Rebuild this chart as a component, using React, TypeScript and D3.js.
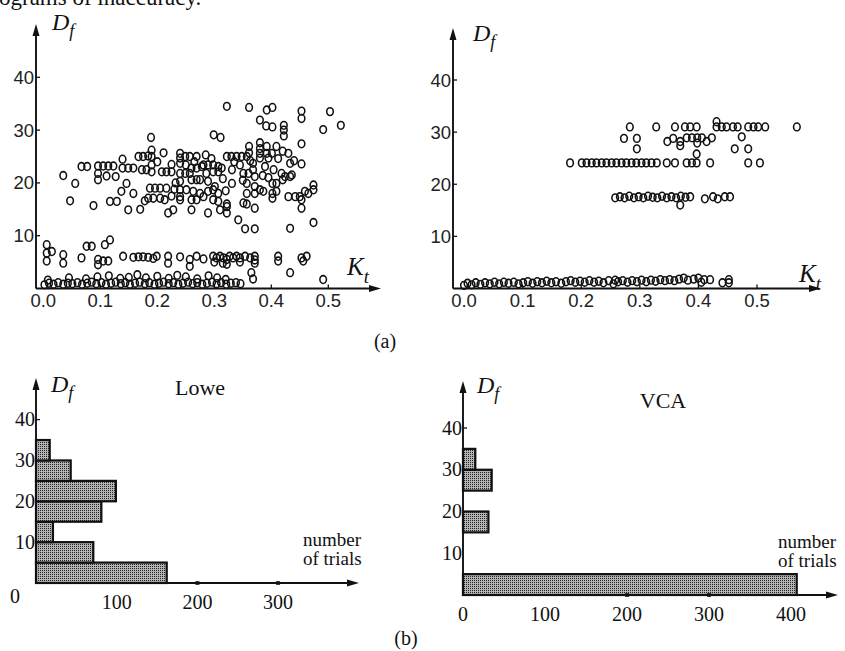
import React, { useEffect, useRef } from 'react';
import * as d3 from 'd3';

// (a) left: Lowe, points as [Kt, Df]
const loweBottomRow = [
  [0.002, 0.7], [0.010, 1.0], [0.018, 0.8], [0.026, 1.1], [0.035, 0.8], [0.043, 1.0], [0.051, 0.9],
  [0.060, 1.1], [0.068, 0.8], [0.077, 1.0], [0.085, 1.2], [0.093, 0.9], [0.102, 1.1], [0.110, 0.8],
  [0.119, 1.0], [0.127, 1.2], [0.136, 0.9], [0.144, 1.1], [0.152, 0.8], [0.161, 1.0], [0.169, 1.2],
  [0.178, 0.9], [0.186, 1.1], [0.195, 0.8], [0.203, 1.0], [0.211, 1.2], [0.220, 0.9], [0.228, 1.1],
  [0.237, 0.8], [0.245, 1.0], [0.254, 1.2], [0.262, 0.9], [0.270, 1.1], [0.279, 0.8], [0.287, 1.0],
  [0.296, 1.2], [0.304, 0.9], [0.312, 1.1], [0.321, 0.8], [0.329, 1.0], [0.338, 1.1], [0.346, 0.9],
];
const loweSecondRow = [
  [0.008, 1.6], [0.045, 2.0], [0.075, 1.8], [0.095, 2.2], [0.115, 2.4], [0.135, 1.9], [0.150, 2.1],
  [0.165, 2.6], [0.180, 2.0], [0.200, 2.3], [0.220, 1.9], [0.235, 2.5], [0.250, 2.2], [0.270, 1.8],
  [0.290, 2.4], [0.305, 2.0], [0.320, 1.7], [0.365, 3.0], [0.368, 1.8], [0.433, 3.0], [0.491, 1.7],
];
const loweMidRow = [
  [0.006, 8.3], [0.006, 6.7], [0.006, 5.2], [0.015, 7.0], [0.035, 6.4], [0.035, 4.8], [0.067, 5.8],
  [0.076, 8.0], [0.085, 8.0], [0.108, 8.3], [0.117, 9.2], [0.096, 5.5], [0.096, 4.5], [0.105, 5.2],
  [0.114, 5.2], [0.140, 6.1], [0.158, 5.9], [0.167, 6.0], [0.175, 6.0], [0.184, 5.9], [0.193, 5.7],
  [0.199, 6.1], [0.219, 6.1], [0.219, 4.8], [0.240, 6.0], [0.257, 5.5], [0.257, 4.2], [0.269, 6.1],
  [0.281, 5.6], [0.298, 6.1], [0.304, 5.8], [0.310, 6.1], [0.316, 5.8], [0.322, 5.5], [0.322, 4.6],
  [0.327, 6.1], [0.333, 5.8], [0.339, 6.1], [0.345, 5.8], [0.354, 6.1], [0.363, 5.8], [0.371, 6.1],
  [0.371, 4.8], [0.412, 6.1], [0.412, 5.2], [0.453, 5.8], [0.462, 6.1], [0.456, 5.2], [0.300, 5.0],
  [0.315, 4.8], [0.345, 5.0], [0.371, 5.4],
];
const loweCluster = [
  [0.322, 34.5], [0.361, 34.3], [0.392, 33.8], [0.402, 34.3], [0.380, 31.9], [0.391, 30.8], [0.402, 30.6],
  [0.422, 30.9], [0.422, 30.0], [0.422, 28.9], [0.453, 33.6], [0.453, 32.2], [0.503, 33.5], [0.491, 30.1],
  [0.522, 30.9], [0.299, 29.1], [0.311, 28.6], [0.189, 28.6], [0.453, 27.4], [0.453, 23.6],
  [0.035, 21.4], [0.056, 19.9], [0.047, 16.6], [0.088, 15.7], [0.067, 23.1], [0.077, 23.1],
  [0.096, 23.2], [0.105, 23.2], [0.114, 23.2], [0.123, 23.2], [0.096, 21.8], [0.096, 20.6], [0.111, 21.3],
  [0.139, 24.5], [0.139, 22.8], [0.149, 22.8], [0.158, 22.8], [0.127, 21.2], [0.146, 19.9], [0.137, 18.4],
  [0.158, 18.0], [0.117, 16.5], [0.129, 16.5], [0.149, 14.9], [0.170, 15.0], [0.167, 25.0], [0.175, 25.0],
  [0.184, 25.1], [0.190, 26.2], [0.190, 25.0], [0.190, 23.4], [0.190, 22.1], [0.211, 25.7], [0.173, 22.5],
  [0.181, 22.5], [0.208, 22.1], [0.216, 22.1], [0.225, 22.1], [0.187, 19.0], [0.196, 19.0], [0.205, 19.0],
  [0.216, 19.0], [0.184, 17.1], [0.193, 17.1], [0.205, 17.1], [0.178, 16.6], [0.213, 16.8], [0.219, 14.3],
  [0.228, 14.9], [0.240, 25.6], [0.240, 24.7], [0.240, 23.7], [0.249, 25.0], [0.257, 25.0], [0.269, 25.0],
  [0.240, 21.8], [0.249, 21.8], [0.257, 21.8], [0.240, 20.3], [0.240, 18.7], [0.240, 17.4], [0.240, 16.8],
  [0.260, 22.8], [0.269, 22.8], [0.278, 23.1], [0.260, 20.6], [0.269, 20.6], [0.275, 20.6], [0.251, 18.7],
  [0.263, 18.4], [0.275, 18.0], [0.260, 16.8], [0.269, 16.8], [0.281, 17.4], [0.260, 14.9], [0.289, 14.3],
  [0.281, 23.4], [0.289, 23.4], [0.298, 23.4], [0.307, 23.1], [0.313, 22.8], [0.286, 21.8], [0.298, 22.1],
  [0.307, 22.1], [0.289, 20.3], [0.301, 19.3], [0.289, 18.4], [0.298, 18.7], [0.307, 18.0], [0.298, 16.8],
  [0.307, 16.5], [0.310, 14.9], [0.322, 15.5], [0.322, 14.3], [0.322, 16.0], [0.322, 25.0], [0.330, 25.0],
  [0.331, 22.5], [0.331, 19.9], [0.339, 25.0], [0.348, 25.0], [0.357, 25.0], [0.342, 13.0], [0.354, 11.3],
  [0.371, 11.3], [0.351, 21.8], [0.360, 21.8], [0.357, 19.9], [0.357, 18.0], [0.357, 16.0], [0.351, 16.2],
  [0.361, 26.9], [0.361, 25.7], [0.368, 23.7], [0.368, 22.5], [0.371, 21.2], [0.371, 19.3], [0.371, 18.0],
  [0.371, 15.2], [0.380, 27.6], [0.380, 26.5], [0.380, 25.6], [0.380, 24.7], [0.380, 18.7], [0.386, 18.4],
  [0.392, 26.9], [0.392, 25.6], [0.395, 24.7], [0.401, 25.6], [0.409, 26.9], [0.389, 23.1], [0.404, 22.5],
  [0.402, 19.9], [0.409, 19.9], [0.402, 18.0], [0.402, 17.1], [0.409, 18.4], [0.430, 25.6], [0.433, 23.7],
  [0.418, 21.8], [0.424, 21.2], [0.433, 21.2], [0.420, 20.6], [0.436, 21.5], [0.430, 17.4], [0.442, 17.4],
  [0.450, 17.4], [0.453, 16.8], [0.453, 15.2], [0.459, 18.4], [0.465, 18.0], [0.474, 18.7], [0.474, 19.6],
  [0.474, 12.5], [0.433, 11.4], [0.225, 23.5], [0.232, 20.0], [0.250, 23.4], [0.265, 24.0], [0.285, 25.3],
  [0.295, 24.6], [0.315, 20.8], [0.320, 18.5], [0.335, 24.0], [0.345, 23.4], [0.350, 20.5], [0.363, 24.2],
  [0.385, 21.4], [0.395, 21.0], [0.412, 24.6], [0.420, 26.0], [0.440, 24.2], [0.200, 24.0], [0.225, 17.5],
  [0.230, 18.8],
];

// (a) right: VCA, points as [Kt, Df]
const vcaBottomRow = [
  [0.000, 0.6], [0.006, 1.0], [0.013, 0.7], [0.020, 1.1], [0.028, 0.8], [0.036, 1.1], [0.044, 0.9],
  [0.052, 1.2], [0.060, 0.9], [0.068, 1.2], [0.076, 1.0], [0.085, 1.2], [0.093, 0.9], [0.101, 1.1],
  [0.109, 1.3], [0.117, 1.0], [0.125, 1.3], [0.133, 1.1], [0.141, 1.4], [0.149, 1.1], [0.157, 1.3],
  [0.166, 1.0], [0.174, 1.3], [0.182, 1.5], [0.190, 1.2], [0.198, 1.4], [0.206, 1.2], [0.214, 1.5],
  [0.222, 1.2], [0.230, 1.4], [0.238, 1.1], [0.247, 1.5], [0.255, 0.9], [0.258, 1.6], [0.263, 1.3],
  [0.271, 1.5], [0.279, 1.2], [0.287, 1.5], [0.295, 1.3], [0.303, 1.6], [0.311, 1.3], [0.319, 1.6],
  [0.327, 1.4], [0.335, 1.7], [0.343, 1.5], [0.351, 1.7], [0.359, 1.5], [0.367, 1.8], [0.375, 2.0],
  [0.382, 1.6], [0.392, 1.8], [0.400, 2.0], [0.405, 1.2], [0.410, 1.7], [0.420, 1.7], [0.441, 1.1],
  [0.452, 1.1], [0.452, 1.7],
];
const vcaRow17 = [
  [0.258, 17.4], [0.266, 17.6], [0.274, 17.4], [0.282, 17.7], [0.290, 17.4], [0.298, 17.6], [0.306, 17.4],
  [0.314, 17.7], [0.322, 17.5], [0.330, 17.4], [0.338, 17.7], [0.346, 17.4], [0.354, 17.6], [0.362, 17.4],
  [0.370, 17.7], [0.378, 17.5], [0.386, 17.6], [0.369, 16.0], [0.411, 17.2], [0.425, 17.6], [0.433, 17.2],
  [0.445, 17.6], [0.454, 17.6],
];
const vcaRow24 = [
  [0.181, 24.1], [0.201, 24.1], [0.209, 24.1], [0.218, 24.1], [0.226, 24.1], [0.235, 24.1], [0.243, 24.1],
  [0.252, 24.1], [0.260, 24.1], [0.269, 24.1], [0.277, 24.1], [0.286, 24.1], [0.294, 24.1], [0.303, 24.1],
  [0.311, 24.1], [0.320, 24.1], [0.329, 24.1], [0.346, 24.1], [0.360, 24.1], [0.380, 24.1], [0.389, 24.1],
  [0.397, 24.1], [0.397, 25.8], [0.420, 24.1], [0.485, 24.1], [0.505, 24.1],
];
const vcaRow28 = [
  [0.273, 28.8], [0.295, 28.8], [0.295, 26.8], [0.347, 28.2], [0.357, 28.8], [0.369, 28.2], [0.369, 27.4],
  [0.380, 28.9], [0.389, 28.9], [0.398, 28.9], [0.398, 27.9], [0.406, 28.9], [0.414, 28.2], [0.423, 28.9],
  [0.474, 29.1], [0.462, 26.8], [0.485, 26.8],
];
const vcaRow31 = [
  [0.283, 31.0], [0.328, 31.0], [0.360, 31.0], [0.377, 31.0], [0.386, 31.0], [0.397, 31.0], [0.431, 32.0],
  [0.431, 31.0], [0.440, 31.0], [0.448, 31.0], [0.459, 31.0], [0.467, 31.0], [0.485, 31.0], [0.494, 31.0],
  [0.502, 31.0], [0.514, 31.0], [0.568, 31.0],
];

const ktTicks = [0, 0.1, 0.2, 0.3, 0.4, 0.5];
const dfTicks = [10, 20, 30, 40];

// (b) histograms: Df bins of width 5, counts = number of trials
const binStarts = [0, 5, 10, 15, 20, 25, 30];
const loweCounts = [162, 71, 21, 81, 99, 43, 17];
const vcaCounts = [407, 0, 0, 31, 0, 35, 15];
const loweTrialTicks = [100, 200, 300];
const vcaTrialTicks = [0, 100, 200, 300, 400];

const SERIF = '"Liberation Serif", "Times New Roman", serif';
const SANS = '"Liberation Sans", Arial, sans-serif';

const App = () => {
  const svgRef = useRef<SVGSVGElement>(null);

  useEffect(() => {
    const svg = d3.select(svgRef.current);
    svg.selectAll('*').remove();

    const defs = svg.append('defs');
    const pat = defs
      .append('pattern')
      .attr('id', 'stipple')
      .attr('width', 2)
      .attr('height', 2)
      .attr('patternUnits', 'userSpaceOnUse');
    pat.append('rect').attr('width', 2).attr('height', 2).attr('fill', '#b4b4b4');
    pat.append('rect').attr('width', 1).attr('height', 1).attr('fill', '#222');

    // cut-off line of body text above the figure
    svg
      .append('text')
      .attr('x', -1)
      .attr('y', 5)
      .attr('font-family', SERIF)
      .attr('font-size', 23)
      .attr('fill', '#111')
      .text('ograms of inaccuracy.');

    const axes = (ox, oy, xEnd, yTop) => {
      const g = svg.append('g').attr('stroke', '#111').attr('stroke-width', 1.9);
      g.append('line').attr('x1', ox).attr('y1', oy).attr('x2', xEnd - 8).attr('y2', oy);
      g.append('line').attr('x1', ox).attr('y1', oy).attr('x2', ox).attr('y2', yTop + 8);
      svg
        .append('path')
        .attr('d', `M${xEnd},${oy} L${xEnd - 12},${oy - 3.5} L${xEnd - 12},${oy + 3.5} Z`)
        .attr('fill', '#111');
      svg
        .append('path')
        .attr('d', `M${ox},${yTop} L${ox - 3.5},${yTop + 12} L${ox + 3.5},${yTop + 12} Z`)
        .attr('fill', '#111');
    };

    const label = (x, y, txt, size, opts = {}) =>
      svg
        .append('text')
        .attr('x', x)
        .attr('y', y)
        .attr('font-family', opts.family || SERIF)
        .attr('font-size', size)
        .attr('font-style', opts.italic ? 'italic' : 'normal')
        .attr('text-anchor', opts.anchor || 'start')
        .attr('fill', '#111')
        .text(txt);

    const symbol = (x, y, main, sub, size) => {
      const t = svg
        .append('text')
        .attr('x', x)
        .attr('y', y)
        .attr('font-family', SERIF)
        .attr('font-style', 'italic')
        .attr('font-size', size)
        .attr('fill', '#111');
      t.append('tspan').text(main);
      t.append('tspan').attr('font-size', size * 0.75).attr('dy', size * 0.3).text(sub);
    };

    // ---- (a) scatter panels ----
    const scatter = (p, groups) => {
      const x = d3.scaleLinear().domain([0, 0.5]).range(p.xr);
      const y = d3.scaleLinear().domain([0, 40]).range(p.yr);
      axes(p.ox, p.oy, p.xEnd, p.yTop);

      svg
        .append('g')
        .selectAll('line')
        .data(dfTicks)
        .enter()
        .append('line')
        .attr('x1', p.ox)
        .attr('x2', p.ox + 4)
        .attr('y1', (d) => y(d))
        .attr('y2', (d) => y(d))
        .attr('stroke', '#111')
        .attr('stroke-width', 1.3);
      svg
        .append('g')
        .selectAll('text')
        .data(dfTicks)
        .enter()
        .append('text')
        .attr('x', p.ox - 2)
        .attr('y', (d) => y(d) + 6.5)
        .attr('text-anchor', 'end')
        .attr('font-family', SANS)
        .attr('font-size', 18.5)
        .attr('fill', '#222')
        .text((d) => d);

      svg
        .append('g')
        .selectAll('line')
        .data(ktTicks.slice(1))
        .enter()
        .append('line')
        .attr('x1', (d) => x(d))
        .attr('x2', (d) => x(d))
        .attr('y1', p.oy)
        .attr('y2', p.oy - 4)
        .attr('stroke', '#111')
        .attr('stroke-width', 1.3);
      svg
        .append('g')
        .selectAll('text')
        .data(ktTicks)
        .enter()
        .append('text')
        .attr('x', (d) => x(d))
        .attr('y', p.oy + 18)
        .attr('text-anchor', 'middle')
        .attr('font-family', SANS)
        .attr('font-size', 18.5)
        .attr('fill', '#222')
        .text((d) => d.toFixed(1));

      const all = groups.flat();
      svg
        .append('g')
        .selectAll('ellipse')
        .data(all)
        .enter()
        .append('ellipse')
        .attr('cx', (d) => x(d[0]))
        .attr('cy', (d) => y(d[1]))
        .attr('rx', 3.3)
        .attr('ry', 3.9)
        .attr('fill', 'none')
        .attr('stroke', '#111')
        .attr('stroke-width', 1.55);

      symbol(p.dfX, p.dfY, 'D', 'f', 24);
      symbol(p.ktX, p.ktY, 'K', 't', 25);
    };

    scatter(
      {
        ox: 36, oy: 288.5, xEnd: 381, yTop: 24,
        xr: [43.3, 328.3], yr: [288.5, 77.3],
        dfX: 52, dfY: 30, ktX: 347, ktY: 275,
      },
      [loweBottomRow, loweSecondRow, loweMidRow, loweCluster]
    );
    scatter(
      {
        ox: 453, oy: 288.5, xEnd: 821, yTop: 28,
        xr: [464, 757], yr: [288.5, 80],
        dfX: 473, dfY: 41, ktX: 799, ktY: 282,
      },
      [vcaBottomRow, vcaRow17, vcaRow24, vcaRow28, vcaRow31]
    );
    label(385, 348, '(a)', 20, { anchor: 'middle' });

    // ---- (b) histograms ----
    const histogram = (p, counts, ticks) => {
      const x = d3.scaleLinear().domain([0, 400]).range(p.xr);
      const y = d3.scaleLinear().domain([0, 40]).range(p.yr);
      const bars = binStarts.map((b, i) => ({ b, c: counts[i] })).filter((d) => d.c > 0);

      svg
        .append('g')
        .selectAll('rect')
        .data(bars)
        .enter()
        .append('rect')
        .attr('x', x(0))
        .attr('y', (d) => y(d.b + 5))
        .attr('width', (d) => x(d.c) - x(0))
        .attr('height', (d) => y(d.b) - y(d.b + 5))
        .attr('fill', 'url(#stipple)')
        .attr('stroke', '#111')
        .attr('stroke-width', 2.2);

      axes(p.ox, p.oy, p.xEnd, p.yTop);

      svg
        .append('line')
        .attr('x1', p.ox)
        .attr('x2', p.ox + 4)
        .attr('y1', y(40))
        .attr('y2', y(40))
        .attr('stroke', '#111')
        .attr('stroke-width', 1.3);
      svg
        .append('g')
        .selectAll('text')
        .data(dfTicks)
        .enter()
        .append('text')
        .attr('x', p.ox - 1)
        .attr('y', (d) => y(d) + 6.5)
        .attr('text-anchor', 'end')
        .attr('font-family', SERIF)
        .attr('font-size', 20)
        .attr('fill', '#111')
        .text((d) => d);

      svg
        .append('g')
        .selectAll('rect.tk')
        .data([200, 300])
        .enter()
        .append('rect')
        .attr('x', (d) => x(d) - 2)
        .attr('y', p.oy - 1.8)
        .attr('width', 4)
        .attr('height', 3.6)
        .attr('fill', '#111');
      svg
        .append('g')
        .selectAll('text')
        .data(ticks)
        .enter()
        .append('text')
        .attr('x', (d) => x(d))
        .attr('y', p.oy + 26)
        .attr('text-anchor', 'middle')
        .attr('font-family', SERIF)
        .attr('font-size', 20)
        .attr('fill', '#111')
        .text((d) => d);

      symbol(p.dfX, p.dfY, 'D', 'f', 24);
      label(p.titleX, p.titleY, p.title, 22, { anchor: 'middle' });
      label(p.nX, p.nY, 'number', 19);
      label(p.nX, p.nY + 19, 'of trials', 19);
    };

    histogram(
      {
        ox: 36, oy: 583, xEnd: 359, yTop: 378,
        xr: [36, 358.8], yr: [583, 419.6],
        dfX: 51, dfY: 392, title: 'Lowe', titleX: 200, titleY: 395, nX: 303, nY: 546,
      },
      loweCounts,
      loweTrialTicks
    );
    label(15, 603, '0', 20, { anchor: 'middle' });
    histogram(
      {
        ox: 463, oy: 595, xEnd: 838, yTop: 381,
        xr: [463, 791], yr: [595, 428],
        dfX: 477, dfY: 393, title: 'VCA', titleX: 663, titleY: 408, nX: 778, nY: 548,
      },
      vcaCounts,
      vcaTrialTicks
    );
    label(406, 645, '(b)', 20, { anchor: 'middle' });
  }, []);

  return (
    <svg
      ref={svgRef}
      width={845}
      height={651}
      style={{ position: 'absolute', left: 0, top: 0, background: '#fff' }}
    ></svg>
  );
};

export default App;
